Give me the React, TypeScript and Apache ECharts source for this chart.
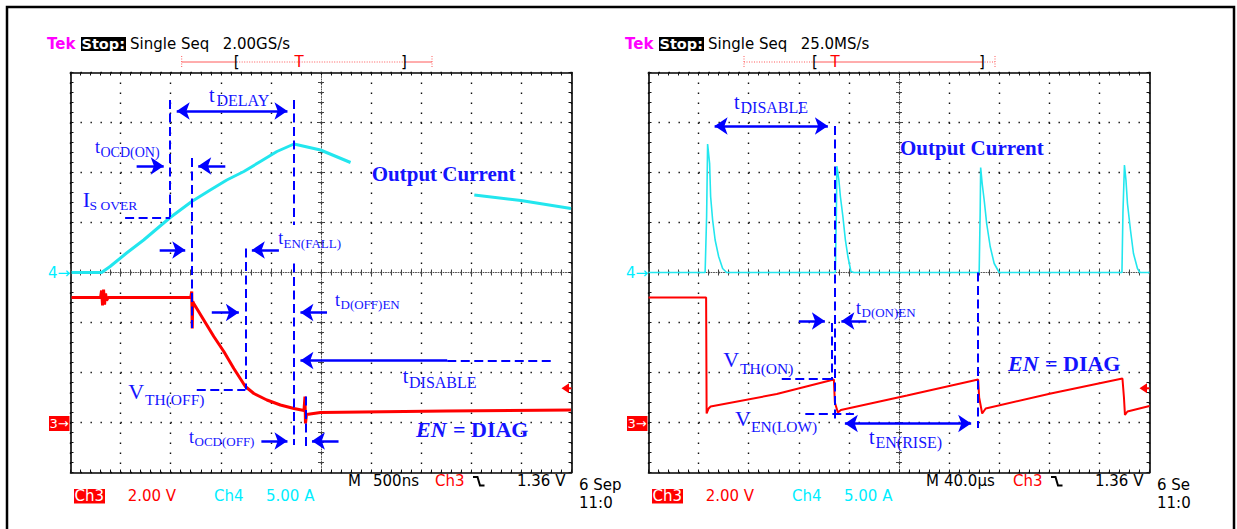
import React, { useEffect, useRef } from 'react';
import * as echarts from 'echarts';

const W = 1237;
const H = 529;

// ---------- trace data (x, y in scope divisions, centre of screen = 0,0) ----------
const LEFT_CURRENT_RISE = [
  [-4.98, 0], [-4.38, 0], [-4.21, 0.12], [-3.88, 0.39], [-3.54, 0.65], [-3.01, 1.1],
  [-2.58, 1.42], [-2.21, 1.65], [-1.88, 1.85], [-1.54, 2.02], [-1.21, 2.22], [-0.88, 2.42],
  [-0.54, 2.57], [-0.01, 2.45], [0.59, 2.2],
];
const LEFT_CURRENT_TAIL = [[3.06, 1.55], [3.99, 1.44], [4.99, 1.28]];
const LEFT_EN = [
  [-4.98, -0.5], [-4.4, -0.5], [-4.38, -0.36], [-4.36, -0.66], [-4.34, -0.34], [-4.32, -0.64],
  [-4.3, -0.42], [-4.28, -0.56], [-4.25, -0.5], [-2.6, -0.5], [-2.58, -0.38], [-2.57, -1.12],
  [-2.56, -0.58], [-2.54, -0.62], [-2.34, -0.95], [-2.14, -1.28], [-1.94, -1.58], [-1.74, -1.92],
  [-1.51, -2.28], [-1.34, -2.42], [-1.08, -2.55], [-0.81, -2.65], [-0.54, -2.72], [-0.34, -2.76],
  [-0.32, -2.48], [-0.31, -3.02], [-0.29, -2.84], [-0.01, -2.8], [2.5, -2.77], [4.99, -2.75],
];
const RIGHT_CURRENT = [
  [-5, 0], [-3.87, 0], [-3.84, 1.12], [-3.82, 2.57], [-3.78, 2.18], [-3.76, 1.52], [-3.72, 1.05],
  [-3.67, 0.65], [-3.6, 0.32], [-3.52, 0.08], [-3.44, 0],
  [-1.27, 0], [-1.25, 1.2], [-1.24, 2.13], [-1.2, 1.85], [-1.17, 1.52], [-1.12, 1.12], [-1.07, 0.65],
  [-1.02, 0.32], [-0.96, 0.02], [-0.9, 0],
  [1.6, 0], [1.62, 1.2], [1.63, 2.1], [1.66, 1.78], [1.7, 1.45], [1.75, 0.98], [1.82, 0.52],
  [1.9, 0.18], [2.0, 0],
  [4.45, 0], [4.47, 1.2], [4.5, 2.15], [4.53, 1.85], [4.56, 1.38], [4.62, 0.85], [4.68, 0.38],
  [4.76, 0.08], [4.81, 0], [5, 0],
];
const RIGHT_EN = [
  [-5, -0.5], [-3.85, -0.5], [-3.84, -2.82], [-3.8, -2.72], [-3.76, -2.68], [-2.44, -2.43], [-1.3, -2.14],
  [-1.28, -2.6], [-1.22, -2.8], [-1.16, -2.75], [0.16, -2.46], [1.58, -2.14],
  [1.6, -2.5], [1.66, -2.82], [1.73, -2.72], [3.03, -2.42], [4.46, -2.12],
  [4.49, -2.5], [4.51, -2.85], [4.56, -2.78], [5, -2.67],
];

// ---------- annotation geometry (divisions) ----------
const LEFT_DASHED = [
  [[-3.01, 3.45], [-3.01, 1.1]], [[-3.91, 1.1], [-3.01, 1.1]], [[-2.58, 2.29], [-2.58, -1.11]],
  [[-1.51, 0.48], [-1.51, -2.34]], [[-2.48, -2.34], [-1.51, -2.34]], [[-0.54, 3.45], [-0.54, 0.95]],
  [[-0.54, 0.18], [-0.54, -3.45]], [[-0.31, -2.48], [-0.31, -3.55]], [[2.52, -1.76], [4.66, -1.76]],
];
const LEFT_ARROWS = [
  [[-3.68, 2.13], [-3.01, 2.13]], [[-1.91, 2.13], [-2.58, 2.13]], [[-3.22, 0.45], [-2.58, 0.45]],
  [[-0.84, 0.45], [-1.51, 0.45]], [[-2.18, -0.8], [-1.51, -0.8]], [[0.12, -0.8], [-0.54, -0.8]],
  [[2.52, -1.76], [-0.54, -1.76]], [[-1.19, -3.37], [-0.54, -3.37]], [[0.35, -3.37], [-0.31, -3.37]],
];
const LEFT_DOUBLE = [[[-3.01, 3.23], [-0.54, 3.23]]];
const RIGHT_DASHED = [
  [[-1.29, 2.93], [-1.29, -2.97]], [[-1.35, -1.01], [-1.35, -2.15]], [[1.58, 0], [1.58, -3.11]],
  [[-2.34, -2.13], [-1.35, -2.13]], [[-1.87, -2.82], [-0.9, -2.82]],
];
const RIGHT_ARROWS = [[[-2.0, -0.97], [-1.35, -0.97]], [[-0.65, -0.97], [-1.28, -0.97]]];
const RIGHT_DOUBLE = [[[-3.81, 2.93], [-1.29, 2.93]], [[-1.21, -3.02], [1.57, -3.02]]];

// ---------- texts ----------
const SAMPLE_RATES = ['2.00GS/s', '25.0MS/s'];
const TIMEBASES = ['500ns', '40.0µs'];
const DATES = ['6 Sep', '6 Se'];
// [x, baseline, main, mainSize, subX, subBaseline, sub, subSize]
const SUB_LABELS = [
  [209, 101.7, 't', 20, 216.5, 106, 'DELAY', 16],
  [95, 153, 't', 18, 100.5, 157, 'OCD(ON)', 14],
  [82.7, 207.3, 'I', 22, 89.5, 210, 'S OVER', 13.5],
  [278.3, 244.5, 't', 18, 283.5, 247.5, 'EN(FALL)', 13],
  [335, 306.5, 't', 18, 340.5, 309, 'D(OFF)EN', 13],
  [402.7, 382.3, 't', 20, 409, 387.5, 'DISABLE', 16],
  [128.3, 399.3, 'V', 22, 145, 404.5, 'TH(OFF)', 15.5],
  [189, 443.5, 't', 18, 194.5, 446, 'OCD(OFF)', 13],
  [734, 108.3, 't', 20, 740.5, 112.7, 'DISABLE', 16],
  [856, 314, 't', 18, 861.5, 316.5, 'D(ON)EN', 13],
  [723.3, 367.3, 'V', 22, 740, 373.3, 'TH(ON)', 15.5],
  [735, 426, 'V', 22, 751, 431.5, 'EN(LOW)', 15.5],
  [869, 444, 't', 20, 875.5, 448, 'EN(RISE)', 16],
];
const BIG_LABELS = [[371.7, 180.7, 'Output Current'], [900, 155, 'Output Current']];
const EN_LABELS = [[416, 437], [1008, 370.7]];

const PANELS = [{ left: 70.5, top: 72.5 }, { left: 648.5, top: 72.5 }];
const PW = 501;
const PH = 400;
const PANEL_DX = 578;

const BLUE = '#0000ff';
const TBLUE = '#1414ff';
const CYAN = '#22e6ee';
const CYAN_TXT = '#00eeff';
const RED = '#ff0000';
const SANS = '"DejaVu Sans", Verdana, sans-serif';
const SERIF = '"Liberation Serif", "Times New Roman", serif';

function txt(x: number, y: number, text: string, size: number, fill: string, font = SANS, weight = 'normal', align = 'left') {
  return {
    type: 'text', x, y, z: 60,
    style: {
      text, fill, font: `${weight} ${size}px ${font}`,
      textAlign: align, textVerticalAlign: 'middle', align, verticalAlign: 'middle',
    },
  };
}

function edgeAxis(dim: string, g: number, pos: string, split: boolean) {
  const isX = dim === 'x';
  return {
    type: 'value', gridIndex: g, position: pos,
    min: isX ? -5 : -4, max: isX ? 5 : 4, interval: 1,
    axisLine: { show: true, onZero: false, lineStyle: { color: '#000', width: 1.6 } },
    axisTick: { show: true, inside: true, length: 3, lineStyle: { color: '#111', width: 1 } },
    minorTick: { show: true, splitNumber: 5, length: 3, lineStyle: { color: '#111', width: 1 } },
    axisLabel: { show: false },
    splitLine: { show: split, lineStyle: { color: '#111', width: 1.4, type: [1.4, 8.6], dashOffset: 0 } },
    minorSplitLine: { show: false },
  };
}

function centerAxis(dim: string, g: number, pos: string, line: boolean) {
  const isX = dim === 'x';
  return {
    type: 'value', gridIndex: g, position: pos,
    min: isX ? -5 : -4, max: isX ? 5 : 4, interval: 1,
    axisLine: { show: line, onZero: true, lineStyle: { color: '#555', width: 1, type: [1, 1.5] } },
    axisTick: { show: true, inside: false, length: 4, lineStyle: { color: '#444', width: 1 } },
    minorTick: { show: true, splitNumber: 5, length: 3, lineStyle: { color: '#444', width: 1 } },
    axisLabel: { show: false },
    splitLine: { show: false },
  };
}

const HEAD = 6.5 / 50.1; // half arrow-head length in divisions

function shortenHead(seg: number[][], both: boolean) {
  const [a, b] = seg;
  const dx = b[0] - a[0];
  const dy = b[1] - a[1];
  const sx = dx === 0 ? 0 : Math.sign(dx) * HEAD;
  const sy = dy === 0 ? 0 : Math.sign(dy) * HEAD;
  const nb = [b[0] - sx, b[1] - sy];
  const na = both ? [a[0] + sx, a[1] + sy] : a;
  return [na, nb];
}

function panelSeries(g: number, traces: any[], dashed: any[], arrows: any[], doubles: any[]) {
  const ax = { xAxisIndex: 4 * g, yAxisIndex: 4 * g };
  const out: any[] = traces.map((t) => ({
    type: 'line', ...ax, data: t.data, showSymbol: false, symbol: 'none', z: 3,
    lineStyle: { color: t.color, width: t.width }, silent: true,
  }));
  out.push({
    type: 'lines', coordinateSystem: 'cartesian2d', ...ax, z: 4, silent: true,
    data: dashed.map((s) => ({ coords: s })),
    symbol: ['none', 'none'],
    lineStyle: { color: BLUE, width: 2, type: [9, 4.5], opacity: 1 },
  });
  out.push({
    type: 'lines', coordinateSystem: 'cartesian2d', ...ax, z: 5, silent: true,
    data: arrows.map((s) => ({ coords: shortenHead(s, false) })),
    symbol: ['none', 'arrow'], symbolSize: 13,
    lineStyle: { color: BLUE, width: 2.6, type: 'solid', opacity: 1 },
  });
  out.push({
    type: 'lines', coordinateSystem: 'cartesian2d', ...ax, z: 5, silent: true,
    data: doubles.map((s) => ({ coords: shortenHead(s, true) })),
    symbol: ['arrow', 'arrow'], symbolSize: 13,
    lineStyle: { color: BLUE, width: 2.6, type: 'solid', opacity: 1 },
  });
  return out;
}

function buildGraphic() {
  const els: any[] = [];
  els.push({
    type: 'rect', z: 1, shape: { x: 7, y: 7, width: 1227, height: 560 },
    style: { fill: 'none', stroke: '#000', lineWidth: 2.5 },
  });
  const brackets = [
    { segs: [[181.7, 236.7, false], [236.7, 404, true], [404, 432, false]], ends: [181.7, 432], lb: 236.7, t: 299, rb: 404 },
    { segs: [[744, 815, true], [815, 982, false], [982, 995, true]], ends: [744, 995], lb: 815, t: 835, rb: 982 },
  ];
  [0, 1].forEach((p) => {
    const dx = p * PANEL_DX;
    // header
    els.push(txt(47 + dx, 43.5, 'Tek', 15, '#ff00ff', SANS, 'bold'));
    els.push({ type: 'rect', z: 55, shape: { x: 81 + dx, y: 37, width: 45, height: 14 }, style: { fill: '#000' } });
    els.push(txt(81.5 + dx, 44, 'Stop:', 14.5, '#fff', SANS, 'bold'));
    els.push(txt(130 + dx, 44, 'Single Seq', 15, '#000'));
    els.push(txt(222.7 + dx, 44, SAMPLE_RATES[p], 15, '#000'));
    const b = brackets[p];
    b.segs.forEach(([x1, x2, dotted]: any) => {
      els.push({
        type: 'line', z: 50, shape: { x1, y1: 62, x2, y2: 62 },
        style: { stroke: '#ff5a5a', lineWidth: 1, lineDash: dotted ? [1, 1.5] : null },
      });
    });
    b.ends.forEach((x: number) => {
      els.push({
        type: 'line', z: 50, shape: { x1: x, y1: 56, x2: x, y2: 68 },
        style: { stroke: '#ff5a5a', lineWidth: 1, lineDash: [1, 1.5] },
      });
    });
    els.push(txt(b.lb, 62, '[', 15, '#000', SANS, 'normal', 'center'));
    els.push(txt(b.rb, 62, ']', 15, '#000', SANS, 'normal', 'center'));
    els.push(txt(b.t, 62, 'T', 15, RED, SANS, 'normal', 'center'));
    // footer
    els.push(txt(348 + dx, 481, 'M', 15, '#000'));
    els.push(txt((p === 0 ? 373 : 366) + dx, 481, TIMEBASES[p], 15, '#000'));
    els.push(txt(435 + dx, 481, 'Ch3', 15, RED));
    els.push({
      type: 'polyline', z: 55,
      shape: { points: [[473 + dx, 477], [477.5 + dx, 477], [480 + dx, 485.5], [484.5 + dx, 485.5]] },
      style: { stroke: '#000', lineWidth: 2, fill: 'none' },
    });
    els.push(txt(517 + dx, 481, '1.36 V', 15, '#000'));
    els.push(txt(579 + dx, 485, DATES[p], 15, '#000'));
    els.push(txt(579 + dx, 503, '11:0', 15, '#000'));
    els.push({ type: 'rect', z: 55, shape: { x: 74 + dx, y: 489, width: 31, height: 14.5 }, style: { fill: RED } });
    els.push(txt(74.5 + dx, 496, 'Ch3', 15, '#fff'));
    els.push(txt(127.7 + dx, 496, '2.00 V', 15, RED));
    els.push(txt(214 + dx, 496, 'Ch4', 15, CYAN_TXT));
    els.push(txt(266 + dx, 496, '5.00 A', 15, CYAN_TXT));
    // channel markers
    els.push(txt(48 + dx, 272.5, '4→', 15, CYAN_TXT));
    els.push({ type: 'rect', z: 55, shape: { x: 49 + dx, y: 416, width: 20.5, height: 15 }, style: { fill: RED } });
    els.push(txt(49.5 + dx, 423.5, '3→', 13, '#fff'));
    els.push({
      type: 'polygon', z: 55,
      shape: { points: [[561.5 + dx, 388.3], [569 + dx, 383.3], [569 + dx, 393.3]] },
      style: { fill: RED },
    });
    els.push({
      type: 'line', z: 55, shape: { x1: 568 + dx, y1: 388.3, x2: 571.5 + dx, y2: 388.3 },
      style: { stroke: RED, lineWidth: 2 },
    });
  });
  // annotation labels
  SUB_LABELS.forEach(([x, base, main, ms, sx, sb, sub, ss]: any) => {
    els.push(txt(x, base - 0.34 * ms, main, ms, TBLUE, SERIF));
    els.push(txt(sx, sb - 0.34 * ss, sub, ss, TBLUE, SERIF));
  });
  BIG_LABELS.forEach(([x, base, t]: any) => {
    els.push(txt(x, base - 0.34 * 21, t, 21, TBLUE, SERIF, 'bold'));
  });
  EN_LABELS.forEach(([x, base]: any) => {
    els.push(txt(x, base - 0.34 * 22, 'EN', 22, TBLUE, SERIF, 'italic bold'));
    els.push(txt(x + 37, base - 0.34 * 22, '= DIAG', 22, TBLUE, SERIF, 'bold'));
  });
  return els;
}

function buildOption() {
  const xAxis: any[] = [];
  const yAxis: any[] = [];
  [0, 1].forEach((g) => {
    xAxis.push(edgeAxis('x', g, 'bottom', true), edgeAxis('x', g, 'top', false),
      centerAxis('x', g, 'bottom', true), centerAxis('x', g, 'top', false));
    yAxis.push(edgeAxis('y', g, 'left', true), edgeAxis('y', g, 'right', false),
      centerAxis('y', g, 'left', true), centerAxis('y', g, 'right', false));
  });
  const series = [
    ...panelSeries(0, [
      { data: LEFT_CURRENT_RISE, color: CYAN, width: 3 },
      { data: LEFT_CURRENT_TAIL, color: CYAN, width: 3 },
      { data: LEFT_EN, color: RED, width: 3 },
    ], LEFT_DASHED, LEFT_ARROWS, LEFT_DOUBLE),
    ...panelSeries(1, [
      { data: RIGHT_CURRENT, color: CYAN, width: 1.6 },
      { data: RIGHT_EN, color: RED, width: 2 },
    ], RIGHT_DASHED, RIGHT_ARROWS, RIGHT_DOUBLE),
  ];
  return {
    animation: false,
    backgroundColor: '#fff',
    grid: PANELS.map((p) => ({ left: p.left, top: p.top, width: PW, height: PH, outerBoundsMode: 'none', containLabel: false })),
    xAxis,
    yAxis,
    series,
    graphic: { elements: buildGraphic() },
  };
}

export default function App() {
  const ref = useRef<HTMLDivElement>(null);
  useEffect(() => {
    const chart = echarts.init(ref.current as HTMLDivElement, null, { renderer: 'svg' });
    chart.setOption(buildOption() as any);
    return () => chart.dispose();
  }, []);
  return (
    <div
      ref={ref}
      style={{ position: 'fixed', left: 0, top: 0, width: W, height: H, background: '#fff' }}
    />
  );
}
